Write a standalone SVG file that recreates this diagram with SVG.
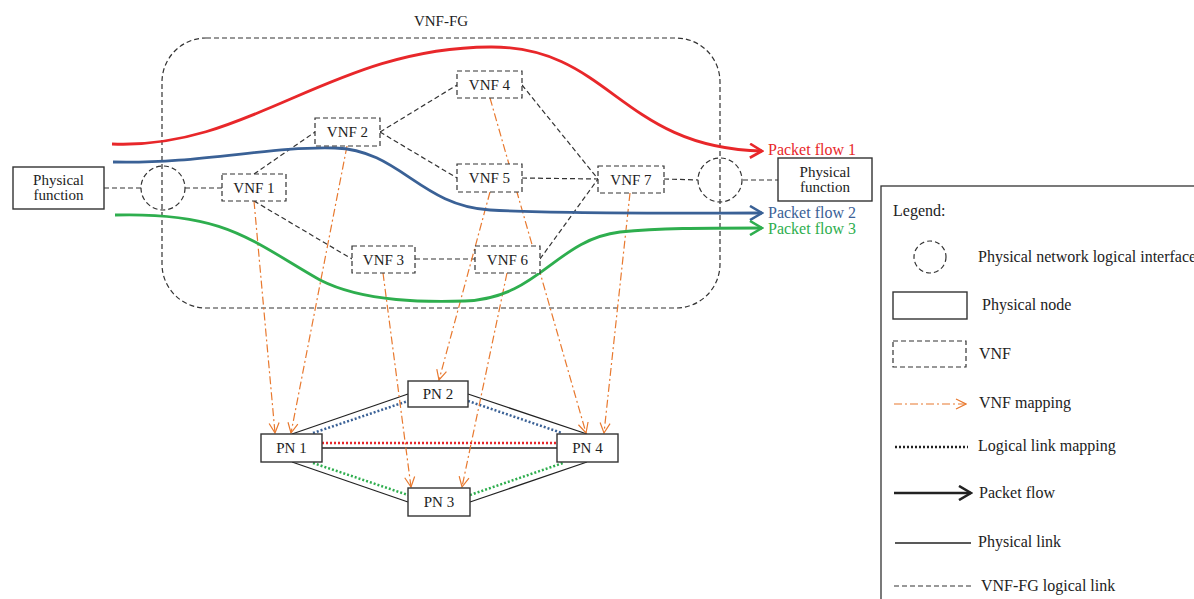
<svg xmlns="http://www.w3.org/2000/svg" width="1194" height="599" viewBox="0 0 1194 599">
<style>
text{font-family:"Liberation Serif","Times New Roman",serif;fill:#222;}
.t{font-size:15px;}
.l{font-size:16px;}
.vnf{fill:#fff;stroke:#333;stroke-width:1.2;stroke-dasharray:5,3;}
.pn{fill:#fff;stroke:#333;stroke-width:1.4;}
.ifc{fill:none;stroke:#333;stroke-width:1.2;stroke-dasharray:5,3;}
.ll{fill:none;stroke:#333;stroke-width:1.2;stroke-dasharray:5,3;}
.pl{fill:none;stroke:#222;stroke-width:1.3;}
.map{fill:none;stroke:#e8792f;stroke-width:1.2;stroke-dasharray:8,3,2,3;marker-end:url(#om);}
.dot{fill:none;stroke-width:2.5;stroke-dasharray:2,2;}
.flow{fill:none;stroke-width:2.8;}
</style>
<defs>
<marker id="om" viewBox="0 0 12 12" refX="11" refY="6" markerWidth="12" markerHeight="12" markerUnits="userSpaceOnUse" orient="auto">
<path d="M1,1 L11,6 L1,11" fill="none" stroke="#e8792f" stroke-width="1.2"/>
</marker>
<marker id="ar" viewBox="0 0 16 16" refX="14" refY="8" markerWidth="16" markerHeight="16" markerUnits="userSpaceOnUse" orient="auto">
<path d="M2,1 L14,8 L2,15" fill="none" stroke="#e8272a" stroke-width="2.6"/>
</marker>
<marker id="ab" viewBox="0 0 16 16" refX="14" refY="8" markerWidth="16" markerHeight="16" markerUnits="userSpaceOnUse" orient="auto">
<path d="M2,1 L14,8 L2,15" fill="none" stroke="#3a6196" stroke-width="2.6"/>
</marker>
<marker id="ag" viewBox="0 0 16 16" refX="14" refY="8" markerWidth="16" markerHeight="16" markerUnits="userSpaceOnUse" orient="auto">
<path d="M2,1 L14,8 L2,15" fill="none" stroke="#2eae4e" stroke-width="2.6"/>
</marker>
<marker id="ak" viewBox="0 0 16 16" refX="14" refY="8" markerWidth="16" markerHeight="16" markerUnits="userSpaceOnUse" orient="auto">
<path d="M2,1 L14,8 L2,15" fill="none" stroke="#222" stroke-width="2.6"/>
</marker>
</defs>
<rect width="1194" height="599" fill="#fff"/>

<g id="vnffg">
<rect x="162" y="38" width="558" height="270" rx="44" ry="44" fill="none" stroke="#333" stroke-width="1.2" stroke-dasharray="5,3"/>
<text class="t" x="441" y="26" text-anchor="middle">VNF-FG</text>
</g>

<g id="connectors">
<line class="ll" x1="104" y1="188" x2="141" y2="188"/>
<line class="ll" x1="185" y1="188" x2="222" y2="188"/>
<line class="ll" x1="254" y1="174" x2="315" y2="132"/>
<line class="ll" x1="254" y1="201" x2="352" y2="259"/>
<line class="ll" x1="380" y1="132" x2="457" y2="85"/>
<line class="ll" x1="380" y1="132" x2="457" y2="178"/>
<line class="ll" x1="522" y1="85" x2="598" y2="179"/>
<line class="ll" x1="522" y1="178" x2="598" y2="179"/>
<line class="ll" x1="415" y1="259" x2="475" y2="259"/>
<line class="ll" x1="540" y1="259" x2="598" y2="179"/>
<line class="ll" x1="664" y1="179" x2="698" y2="180"/>
<line class="ll" x1="743" y1="180" x2="778" y2="180"/>

<line class="pl" x1="292" y1="434" x2="408" y2="394"/>
<line class="pl" x1="468" y1="394" x2="587" y2="434"/>
<line class="pl" x1="322" y1="448" x2="557" y2="448"/>
<line class="pl" x1="292" y1="462" x2="408" y2="502"/>
<line class="pl" x1="470" y1="502" x2="587" y2="462"/>

<line class="dot" stroke="#3a6196" x1="313" y1="433" x2="408" y2="401"/>
<line class="dot" stroke="#3a6196" x1="468" y1="401" x2="562" y2="433"/>
<line class="dot" stroke="#e8272a" x1="322" y1="443" x2="557" y2="443"/>
<line class="dot" stroke="#2eae4e" x1="313" y1="463" x2="408" y2="495"/>
<line class="dot" stroke="#2eae4e" x1="470" y1="495" x2="563" y2="463"/>

<line class="map" x1="254" y1="201" x2="275" y2="433"/>
<line class="map" x1="347" y1="146" x2="291" y2="433"/>
<line class="map" x1="383" y1="273" x2="411" y2="487"/>
<line class="map" x1="507" y1="273" x2="462" y2="487"/>
<line class="map" x1="490" y1="192" x2="439" y2="380"/>
<line class="map" x1="490" y1="98" x2="586" y2="433"/>
<line class="map" x1="630" y1="193" x2="604" y2="433"/>

<path class="flow" stroke="#e8272a" marker-end="url(#ar)" d="M112,144 C250,150 330,48 490,47 C610,46 620,148 762,151"/>
<path class="flow" stroke="#3a6196" marker-end="url(#ab)" d="M113,162 C200,164 270,146 335,148 C400,150 420,206 490,210 C560,214 680,213 762,213"/>
<path class="flow" stroke="#2eae4e" marker-end="url(#ag)" d="M115,215 C225,212 250,240 320,280 C365,303 430,302 465,301 C540,298 555,240 620,232 C660,228 700,228 762,228"/>
<text class="l" x="768" y="155" style="fill:#e8272a">Packet flow 1</text>
<text class="l" x="768" y="218" style="fill:#3a6196">Packet flow 2</text>
<text class="l" x="768" y="234" style="fill:#2eae4e">Packet flow 3</text>
</g>

<g id="pf-left"><rect class="pn" x="13" y="167" width="91" height="42"/><text class="t" x="58.5" y="185" text-anchor="middle">Physical</text><text class="t" x="58.5" y="200" text-anchor="middle">function</text></g>
<g id="pf-right"><rect class="pn" x="778" y="158" width="94" height="43"/><text class="t" x="825" y="177" text-anchor="middle">Physical</text><text class="t" x="825" y="192" text-anchor="middle">function</text></g>
<g id="if-left"><circle class="ifc" cx="163" cy="188" r="22"/></g>
<g id="if-right"><circle class="ifc" cx="720" cy="180" r="22"/></g>

<g id="vnf1"><rect class="vnf" x="222" y="174" width="64" height="27"/><text class="t" x="254" y="193" text-anchor="middle">VNF 1</text></g>
<g id="vnf2"><rect class="vnf" x="315" y="118" width="65" height="28"/><text class="t" x="347.5" y="137" text-anchor="middle">VNF 2</text></g>
<g id="vnf3"><rect class="vnf" x="352" y="246" width="63" height="27"/><text class="t" x="383.5" y="265" text-anchor="middle">VNF 3</text></g>
<g id="vnf4"><rect class="vnf" x="457" y="71" width="65" height="27"/><text class="t" x="489.5" y="90" text-anchor="middle">VNF 4</text></g>
<g id="vnf5"><rect class="vnf" x="457" y="164" width="65" height="28"/><text class="t" x="489.5" y="183" text-anchor="middle">VNF 5</text></g>
<g id="vnf6"><rect class="vnf" x="475" y="246" width="65" height="27"/><text class="t" x="507.5" y="265" text-anchor="middle">VNF 6</text></g>
<g id="vnf7"><rect class="vnf" x="598" y="166" width="66" height="27"/><text class="t" x="631" y="185" text-anchor="middle">VNF 7</text></g>

<g id="pn1"><rect class="pn" x="261" y="434" width="61" height="28"/><text class="t" x="291.5" y="453" text-anchor="middle">PN 1</text></g>
<g id="pn2"><rect class="pn" x="408" y="381" width="60" height="26"/><text class="t" x="438" y="399" text-anchor="middle">PN 2</text></g>
<g id="pn3"><rect class="pn" x="408" y="488" width="62" height="28"/><text class="t" x="439" y="507" text-anchor="middle">PN 3</text></g>
<g id="pn4"><rect class="pn" x="557" y="434" width="61" height="28"/><text class="t" x="587.5" y="453" text-anchor="middle">PN 4</text></g>

<g id="legend">
<rect x="881" y="186" width="400" height="500" fill="none" stroke="#333" stroke-width="1.3"/>
<text class="l" x="893" y="216">Legend:</text>
<circle class="ifc" cx="930" cy="257" r="16"/>
<text class="l" x="978" y="262">Physical network logical interface</text>
<rect class="pn" x="893" y="292" width="74" height="27"/>
<text class="l" x="982" y="310">Physical node</text>
<rect class="vnf" x="893" y="341" width="73" height="26"/>
<text class="l" x="979" y="359">VNF</text>
<line class="map" x1="894" y1="404" x2="966" y2="404"/>
<text class="l" x="979" y="408">VNF mapping</text>
<line class="dot" stroke="#222" stroke-width="2" x1="895" y1="447" x2="968" y2="447"/>
<text class="l" x="978" y="451">Logical link mapping</text>
<line fill="none" stroke="#222" stroke-width="2.6" marker-end="url(#ak)" x1="894" y1="493" x2="971" y2="493"/>
<text class="l" x="979" y="498">Packet flow</text>
<line class="pl" x1="895" y1="543" x2="971" y2="543"/>
<text class="l" x="978" y="547">Physical link</text>
<line class="ll" x1="894" y1="586" x2="971" y2="586"/>
<text class="l" x="981" y="591">VNF-FG logical link</text>
</g>
</svg>
